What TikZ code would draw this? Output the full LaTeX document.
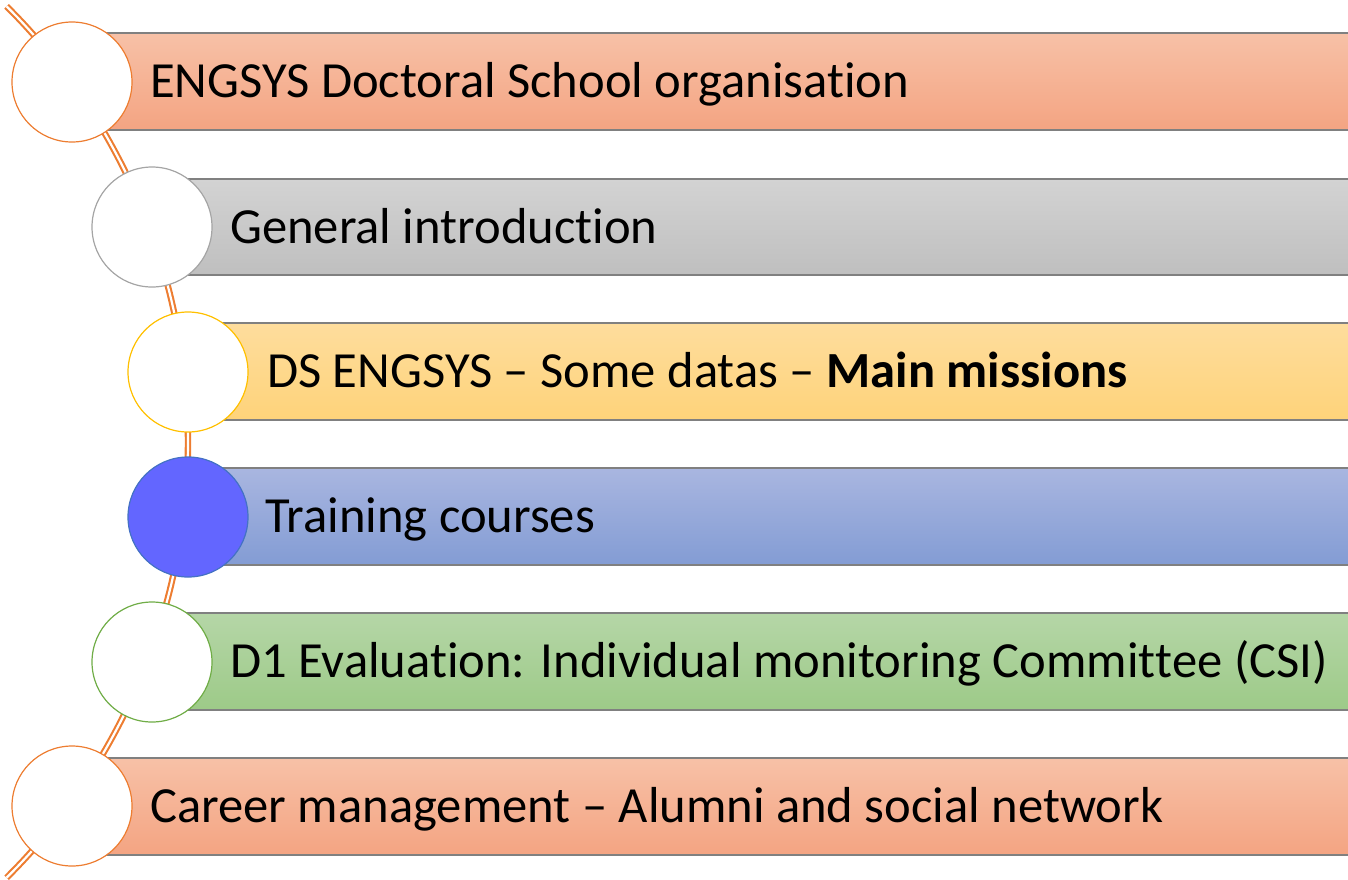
\documentclass[tikz,border=0pt]{standalone}
\usepackage{fontspec}
\setmainfont{Carlito}[Ligatures=NoCommon]
\newcommand\nolg{\kern0pt{}}
\definecolor{arcorange}{HTML}{ED7D31}
\definecolor{barborder}{HTML}{808080}
\definecolor{orTop}{HTML}{F7C1A7}
\definecolor{orBot}{HTML}{F4A482}
\definecolor{grTop}{HTML}{D3D3D3}
\definecolor{grBot}{HTML}{BFBFBF}
\definecolor{ylTop}{HTML}{FEDD9D}
\definecolor{ylBot}{HTML}{FED37A}
\definecolor{blTop}{HTML}{A9B6E0}
\definecolor{blBot}{HTML}{839CD4}
\definecolor{gnTop}{HTML}{B5D6A7}
\definecolor{gnBot}{HTML}{9DCA88}
\definecolor{cOrange}{HTML}{ED7D31}
\definecolor{cGrey}{HTML}{A5A5A5}
\definecolor{cGold}{HTML}{FFC000}
\definecolor{cBlue}{HTML}{4472C4}
\definecolor{cBlueFill}{HTML}{6366FF}
\definecolor{cGreen}{HTML}{70AD47}
\tikzset{
  barbox/.style={draw=barborder, line width=1.3pt},
  ring/.style={circle, minimum size=120pt, inner sep=0pt, line width=1.2pt, fill=white},
  label/.style={anchor=base west, inner sep=0pt, font=\fontsize{50.6}{60}\selectfont},
  track/.style={draw=arcorange, line width=2.1pt, double=white, double distance=2.2pt}
}
\begin{document}
\begin{tikzpicture}[x=1pt,y=-1pt]
\useasboundingbox (0,0) rectangle (1348,879);
% decorative arc
\draw[track] plot[domain=-45.2:45.2, samples=120] ({-426+614*cos(\x)}, {442+614*sin(\x)});
% bars
\path[barbox, top color=orTop, bottom color=orBot] (72,33) rectangle (1352,130);
\node[inner sep=0pt] (b1) at (712,81.5) {};
\path[barbox, top color=grTop, bottom color=grBot] (152,179) rectangle (1352,275);
\node[inner sep=0pt] (b2) at (752,227) {};
\path[barbox, top color=ylTop, bottom color=ylBot] (188,323) rectangle (1352,420);
\node[inner sep=0pt] (b3) at (770,371.5) {};
\path[barbox, top color=blTop, bottom color=blBot] (188,468) rectangle (1352,565);
\node[inner sep=0pt] (b4) at (770,516.5) {};
\path[barbox, top color=gnTop, bottom color=gnBot] (152,613) rectangle (1352,710);
\node[inner sep=0pt] (b5) at (752,661.5) {};
\path[barbox, top color=orTop, bottom color=orBot] (72,758) rectangle (1352,855);
\node[inner sep=0pt] (b6) at (712,806.5) {};
% circles
\node[ring, draw=cOrange] (c1) at (72,82) {};
\node[ring, draw=cGrey] (c2) at (152,227) {};
\node[ring, draw=cGold] (c3) at (188,372) {};
\node[ring, draw=cBlue, fill=cBlueFill] (c4) at (188,517) {};
\node[ring, draw=cGreen] (c5) at (152,662) {};
\node[ring, draw=cOrange] (c6) at (72,806) {};
% labels
\node[label] (t1) at (150,97.5) {ENGSYS Doctoral School organisat\nolg ion};
\node[label] (t2) at (230,243) {General introduct\nolg ion};
\node[label] (t3) at (267,387.5) {DS ENGSYS – Some datas – \textbf{Main missions}};
\node[label] (t4) at (265,532.5) {Training courses};
\node[label] (t5) at (230,677.5) {D1 Evaluat\nolg ion: Individual monitoring Commit\nolg t\nolg ee (CSI)};
\node[label] (t6) at (150,822.5) {Career management – Alumni and social network};
\end{tikzpicture}
\end{document}
